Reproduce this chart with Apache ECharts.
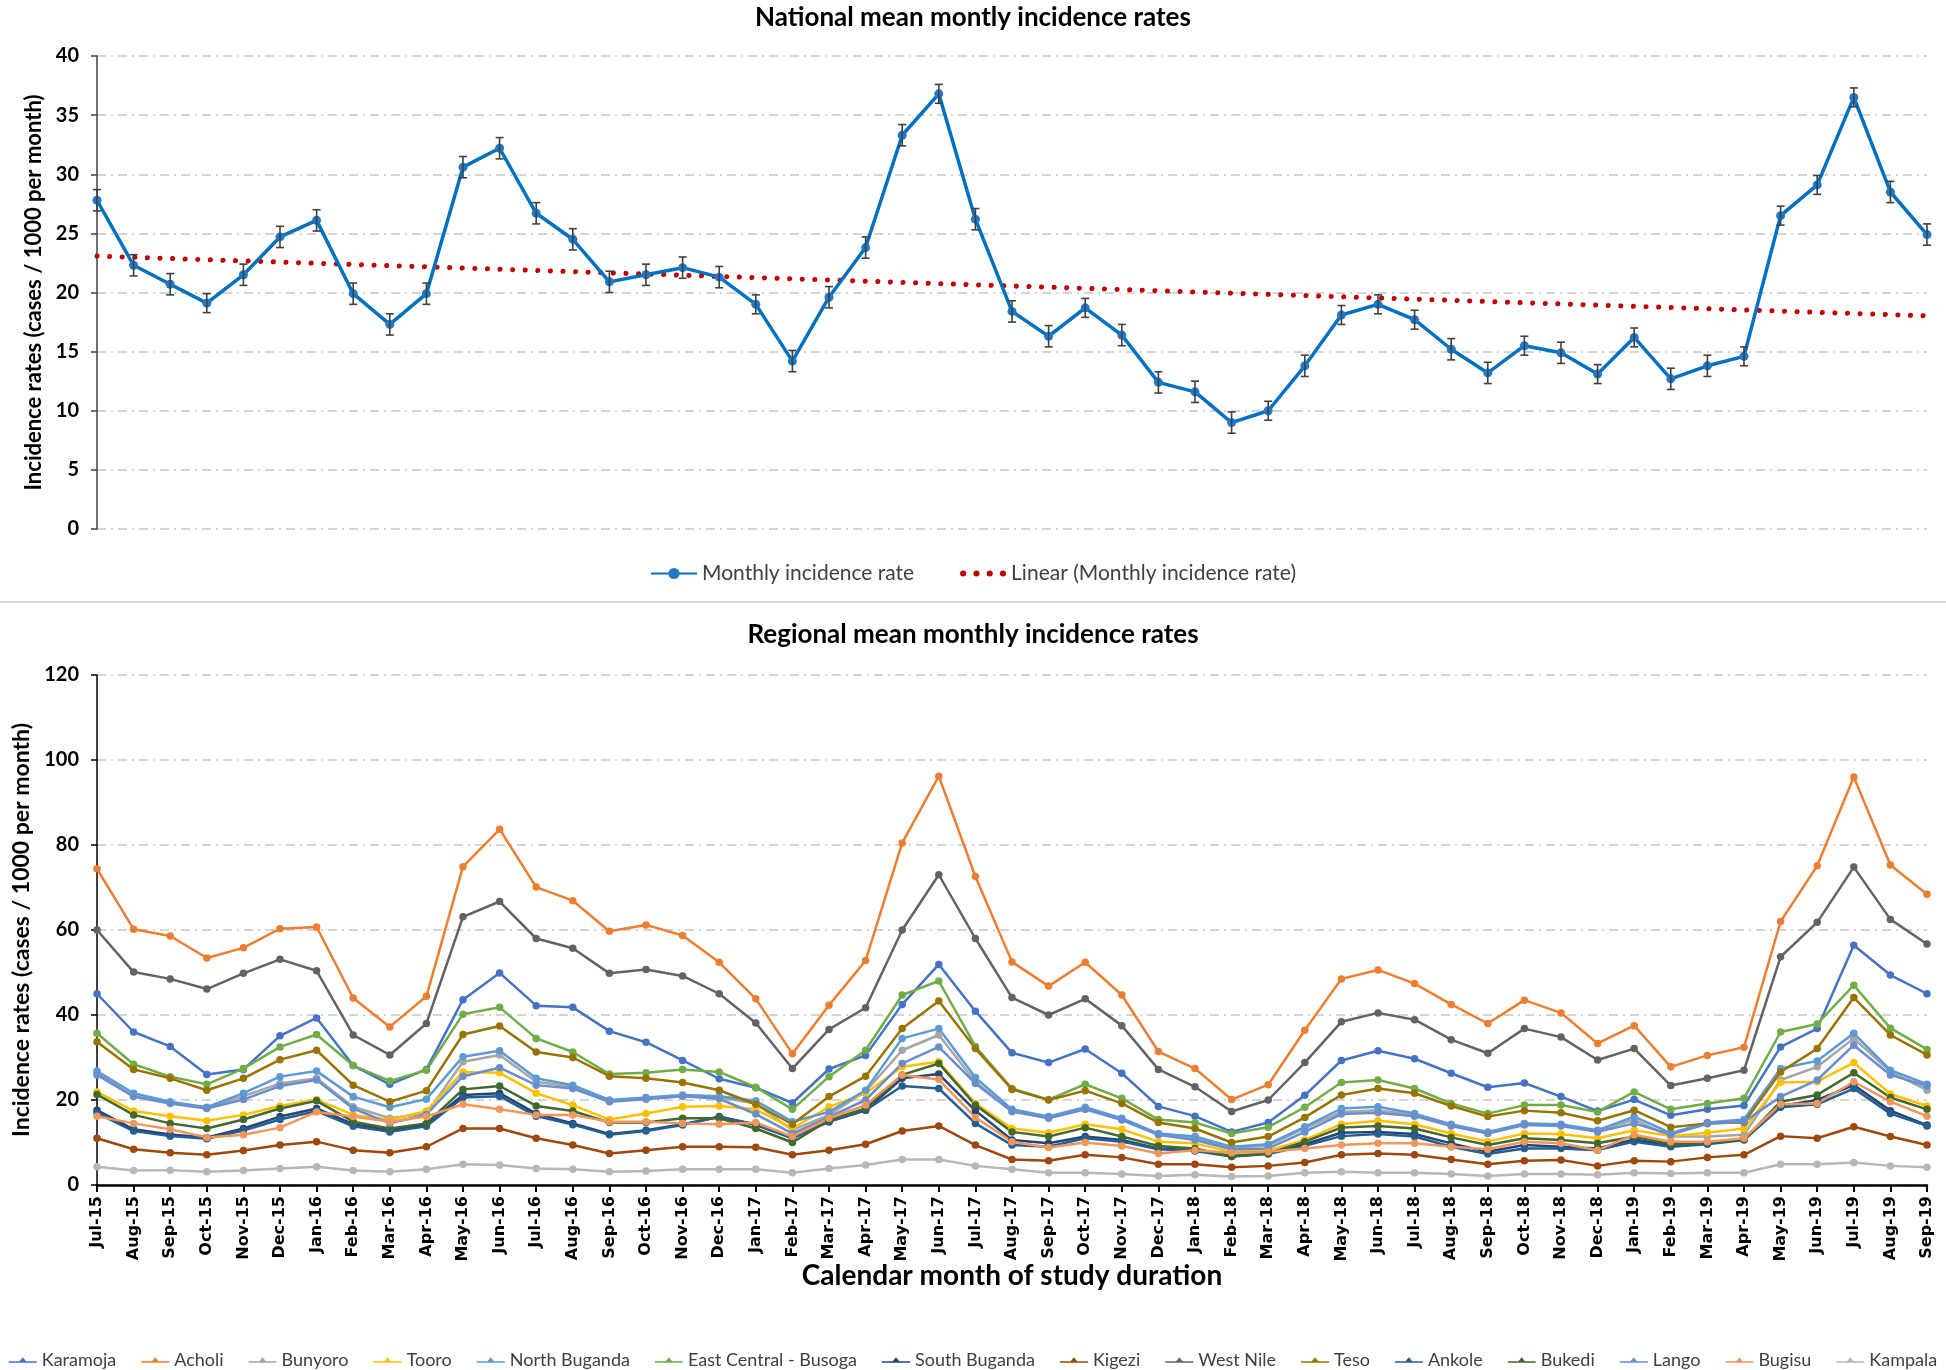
<!DOCTYPE html>
<html>
<head>
<meta charset="utf-8">
<script src="https://cdn.jsdelivr.net/npm/echarts@6/dist/echarts.min.js"></script>
<style>
    html, body { margin: 0; padding: 0; background: #fff; }
    #chart { width: 1946px; height: 1370px; }
</style>
</head>
<body>
<div id="chart"></div>
<script>
// 月份
var months = ['Jul-15','Aug-15','Sep-15','Oct-15','Nov-15','Dec-15','Jan-16','Feb-16','Mar-16','Apr-16',
    'May-16','Jun-16','Jul-16','Aug-16','Sep-16','Oct-16','Nov-16','Dec-16','Jan-17','Feb-17',
    'Mar-17','Apr-17','May-17','Jun-17','Jul-17','Aug-17','Sep-17','Oct-17','Nov-17','Dec-17',
    'Jan-18','Feb-18','Mar-18','Apr-18','May-18','Jun-18','Jul-18','Aug-18','Sep-18','Oct-18',
    'Nov-18','Dec-18','Jan-19','Feb-19','Mar-19','Apr-19','May-19','Jun-19','Jul-19','Aug-19','Sep-19'];

// 全国月均发病率
var nationalRate = [27.8, 22.3, 20.7, 19.1, 21.5, 24.7, 26.1, 19.9, 17.3, 19.9,
    30.6, 32.2, 26.7, 24.5, 20.9, 21.5, 22.1, 21.3, 19.0, 14.2,
    19.6, 23.8, 33.3, 36.8, 26.2, 18.4, 16.3, 18.7, 16.4, 12.4,
    11.6, 9.0, 10.0, 13.8, 18.1, 19.0, 17.7, 15.2, 13.2, 15.5,
    14.9, 13.1, 16.2, 12.7, 13.8, 14.6, 26.5, 29.1, 36.5, 28.5, 24.9];
// 误差 (±)
var nationalErr = [0.9, 0.9, 0.9, 0.8, 0.9, 0.9, 0.9, 0.9, 0.9, 0.9,
    0.9, 0.9, 0.9, 0.9, 0.9, 0.9, 0.9, 0.9, 0.8, 0.9,
    0.9, 0.9, 0.9, 0.8, 0.9, 0.9, 0.9, 0.8, 0.9, 0.9,
    0.9, 0.9, 0.8, 0.9, 0.8, 0.8, 0.8, 0.9, 0.9, 0.8,
    0.9, 0.8, 0.8, 0.9, 0.9, 0.8, 0.8, 0.8, 0.8, 0.9, 0.9];

// 各地区
var karamoja = [45.0, 36.0, 32.6, 26.0, 27.2, 35.1, 39.3, 28.1, 23.7, 27.2,
    43.6, 49.9, 42.2, 41.8, 36.2, 33.6, 29.3, 25.0, 22.9, 19.3,
    27.3, 30.5, 42.5, 51.9, 40.9, 31.1, 28.8, 32.0, 26.3, 18.5,
    16.2, 12.5, 14.7, 21.1, 29.3, 31.6, 29.7, 26.3, 23.0, 24.0,
    20.8, 17.4, 20.1, 16.4, 17.8, 18.7, 32.5, 36.8, 56.4, 49.4, 45.0];
var acholi = [74.4, 60.2, 58.6, 53.4, 55.8, 60.3, 60.7, 44.0, 37.2, 44.4,
    74.9, 83.7, 70.1, 66.9, 59.7, 61.2, 58.7, 52.4, 43.8, 30.9,
    42.3, 52.8, 80.5, 96.2, 72.6, 52.5, 46.8, 52.4, 44.7, 31.4,
    27.4, 20.1, 23.6, 36.4, 48.5, 50.6, 47.4, 42.5, 38.0, 43.5,
    40.5, 33.3, 37.5, 27.8, 30.5, 32.4, 62.0, 75.1, 96.0, 75.3, 68.4];
var bunyoro = [26.3, 20.9, 19.3, 18.1, 20.9, 23.9, 25.1, 18.4, 15.7, 16.8,
    29.0, 30.6, 24.3, 23.1, 19.8, 20.4, 21.0, 20.6, 19.2, 12.9,
    16.5, 22.0, 31.7, 35.3, 24.3, 17.3, 15.9, 17.9, 15.5, 12.0,
    11.0, 8.8, 9.3, 13.3, 17.2, 17.6, 16.5, 14.1, 12.3, 14.4,
    14.1, 12.7, 15.4, 11.4, 11.4, 11.8, 24.7, 27.8, 34.5, 26.6, 22.3];
var tooro = [21.9, 17.4, 16.2, 15.1, 16.5, 18.6, 20.1, 16.5, 15.3, 17.4,
    26.6, 26.4, 21.6, 18.8, 15.4, 16.8, 18.4, 18.6, 17.8, 13.3,
    18.4, 21.6, 27.8, 29.0, 19.2, 13.3, 12.3, 14.3, 13.1, 10.2,
    9.8, 7.8, 8.1, 10.6, 14.3, 15.1, 14.3, 12.1, 10.2, 12.1,
    12.0, 11.0, 12.9, 11.5, 12.3, 13.3, 24.1, 24.3, 28.8, 21.4, 18.6];
var northBuganda = [26.8, 21.6, 19.6, 18.3, 21.6, 25.5, 26.8, 20.8, 18.3, 20.2,
    30.2, 31.6, 25.1, 23.5, 20.0, 20.6, 21.2, 20.9, 19.8, 14.9,
    17.2, 22.3, 34.5, 36.8, 25.3, 17.8, 16.1, 18.3, 15.7, 12.1,
    11.4, 9.0, 9.6, 13.7, 18.0, 18.4, 16.8, 14.3, 12.5, 14.5,
    14.3, 12.9, 16.1, 12.2, 14.7, 15.4, 27.4, 29.2, 35.7, 27.0, 23.7];
var eastCentralBusoga = [35.7, 28.4, 25.5, 23.7, 27.4, 32.5, 35.4, 28.1, 24.5, 27.0,
    40.2, 41.8, 34.5, 31.3, 26.1, 26.4, 27.2, 26.6, 23.0, 17.8,
    25.5, 31.7, 44.7, 48.0, 32.6, 22.7, 20.1, 23.7, 20.4, 15.4,
    14.7, 12.1, 13.6, 18.3, 24.1, 24.7, 22.7, 19.2, 16.8, 18.8,
    18.8, 17.2, 21.9, 17.8, 19.2, 20.4, 36.0, 37.9, 47.0, 36.9, 31.9];
var southBuganda = [17.6, 13.1, 11.9, 11.2, 13.3, 16.1, 18.0, 14.3, 12.9, 14.3,
    21.2, 21.6, 16.8, 14.5, 12.0, 12.9, 14.3, 16.0, 14.3, 11.2,
    14.9, 17.6, 25.1, 26.1, 17.5, 10.6, 9.8, 11.4, 10.6, 8.6,
    8.2, 6.8, 7.4, 9.6, 12.3, 12.5, 12.0, 9.8, 7.8, 9.4,
    9.0, 8.6, 10.7, 9.3, 9.8, 10.9, 18.6, 20.0, 23.5, 17.5, 14.1];
var kigezi = [11.0, 8.4, 7.6, 7.1, 8.1, 9.4, 10.2, 8.2, 7.6, 9.0,
    13.3, 13.3, 11.0, 9.4, 7.4, 8.2, 9.0, 9.0, 8.9, 7.1,
    8.2, 9.6, 12.7, 13.9, 9.4, 6.0, 5.7, 7.1, 6.5, 4.9,
    4.9, 4.2, 4.5, 5.3, 7.1, 7.4, 7.1, 6.0, 4.9, 5.7,
    5.9, 4.5, 5.7, 5.5, 6.5, 7.1, 11.5, 11.0, 13.7, 11.4, 9.4];
var westNile = [60.0, 50.1, 48.5, 46.1, 49.8, 53.1, 50.4, 35.3, 30.6, 38.0,
    63.1, 66.7, 58.0, 55.7, 49.8, 50.7, 49.2, 45.0, 38.1, 27.4,
    36.6, 41.7, 60.0, 73.0, 58.0, 44.1, 40.0, 43.8, 37.5, 27.2,
    23.1, 17.3, 20.0, 28.8, 38.4, 40.5, 38.9, 34.2, 31.0, 36.8,
    34.8, 29.4, 32.1, 23.4, 25.1, 27.0, 53.7, 61.8, 74.8, 62.5, 56.7];
var teso = [33.7, 27.2, 25.1, 22.3, 25.1, 29.5, 31.7, 23.5, 19.6, 22.2,
    35.4, 37.4, 31.3, 30.0, 25.6, 25.1, 24.1, 22.3, 19.0, 14.3,
    20.8, 25.6, 36.8, 43.3, 32.1, 22.5, 20.0, 22.2, 19.2, 14.7,
    13.3, 10.0, 11.4, 15.9, 21.2, 22.7, 21.6, 18.6, 16.1, 17.5,
    17.0, 15.1, 17.6, 13.6, 14.5, 14.7, 26.6, 32.1, 44.1, 35.3, 30.6];
var ankole = [16.9, 12.7, 11.5, 10.9, 12.8, 15.4, 17.4, 13.8, 12.5, 13.8,
    20.6, 20.9, 16.2, 14.2, 11.8, 12.7, 14.1, 16.1, 14.1, 11.0,
    14.9, 17.6, 23.3, 22.7, 14.5, 9.4, 9.0, 11.0, 10.2, 8.4,
    8.0, 6.7, 7.3, 9.2, 11.5, 12.0, 11.4, 9.0, 7.3, 8.6,
    8.6, 8.2, 10.2, 9.0, 9.6, 10.6, 18.3, 19.0, 22.7, 16.8, 13.9];
var bukedi = [21.3, 16.5, 14.5, 13.3, 15.4, 18.0, 19.8, 14.9, 13.3, 14.5,
    22.5, 23.3, 18.6, 17.4, 14.7, 14.7, 15.7, 15.7, 13.3, 10.0,
    15.3, 18.0, 25.9, 28.6, 18.8, 12.5, 11.4, 13.5, 11.4, 9.2,
    8.6, 6.7, 7.4, 10.2, 13.5, 13.9, 13.3, 11.2, 9.4, 11.0,
    10.6, 9.8, 11.4, 9.6, 10.0, 10.7, 19.6, 21.2, 26.4, 20.6, 17.8];
var lango = [25.9, 20.8, 19.2, 18.0, 20.1, 23.3, 24.7, 18.0, 14.5, 16.6,
    25.6, 27.6, 23.5, 22.7, 19.6, 20.2, 20.9, 20.3, 16.7, 12.1,
    16.0, 20.0, 28.6, 32.5, 23.9, 17.3, 15.7, 17.8, 15.3, 11.8,
    10.6, 8.4, 8.6, 12.5, 16.7, 17.0, 16.2, 13.9, 12.1, 14.1,
    13.9, 12.5, 14.5, 11.9, 14.4, 14.9, 20.8, 24.7, 32.9, 25.9, 23.3];
var bugisu = [16.2, 14.5, 13.1, 11.2, 11.8, 13.5, 17.2, 16.1, 14.9, 16.1,
    19.0, 17.8, 16.5, 16.5, 14.9, 14.9, 14.5, 14.3, 14.7, 11.4,
    15.7, 18.8, 25.9, 24.8, 15.9, 10.2, 8.8, 10.0, 9.2, 7.4,
    8.2, 7.6, 7.8, 8.6, 9.4, 9.8, 9.8, 9.0, 8.4, 10.2,
    9.8, 8.2, 11.8, 10.2, 10.2, 11.0, 19.0, 19.2, 24.3, 19.6, 16.2];
var kampala = [4.3, 3.4, 3.5, 3.1, 3.4, 3.9, 4.3, 3.4, 3.1, 3.7,
    4.9, 4.7, 3.9, 3.7, 3.1, 3.3, 3.7, 3.7, 3.7, 2.9,
    3.9, 4.7, 6.0, 6.0, 4.5, 3.7, 2.9, 2.9, 2.6, 2.1,
    2.4, 2.0, 2.1, 2.9, 3.1, 2.9, 2.9, 2.6, 2.1, 2.6,
    2.6, 2.4, 2.9, 2.7, 2.9, 2.9, 4.9, 4.9, 5.3, 4.5, 4.2];

var regionNames = ['Karamoja', 'Acholi', 'Bunyoro', 'Tooro', 'North Buganda', 'East Central - Busoga',
    'South Buganda', 'Kigezi', 'West Nile', 'Teso', 'Ankole', 'Bukedi', 'Lango', 'Bugisu', 'Kampala'];
var regionData = [karamoja, acholi, bunyoro, tooro, northBuganda, eastCentralBusoga,
    southBuganda, kigezi, westNile, teso, ankole, bukedi, lango, bugisu, kampala];
var regionColors = ['#4472C4', '#ED7D31', '#A5A5A5', '#FFC000', '#5B9BD5', '#70AD47',
    '#264478', '#9E480E', '#636363', '#997300', '#255E91', '#43682B', '#698ED0', '#F1975A', '#B7B7B7'];

var FONT = 'Lato, "Noto Sans", sans-serif';

// 线性趋势 (最小二乘)
function linearTrend(vals) {
    var n = vals.length, sx = 0, sy = 0, sxy = 0, sxx = 0;
    for (var i = 0; i < n; i++) {
        sx += i; sy += vals[i]; sxy += i * vals[i]; sxx += i * i;
    }
    var b = (n * sxy - sx * sy) / (n * sxx - sx * sx);
    var a = (sy - b * sx) / n;
    return vals.map(function (v, i) { return +(a + b * i).toFixed(3); });
}

var gridLine = { show: true, lineStyle: { color: '#c6c6c6', width: 1.5, type: [9, 5, 2, 5] } };

// 图例小图标: 点线 / 线加三角
var dotsIcon = 'path://M0,3a3,3 0 1,0 6,0a3,3 0 1,0 -6,0z M13,3a3,3 0 1,0 6,0a3,3 0 1,0 -6,0z ' +
    'M26,3a3,3 0 1,0 6,0a3,3 0 1,0 -6,0z M39,3a3,3 0 1,0 6,0a3,3 0 1,0 -6,0z';
var triLineIcon = 'path://M0,5.2 L11.5,5.2 L15,1 L18.5,5.2 L30,5.2 L30,6.8 L0,6.8 Z';

var chart = echarts.init(document.getElementById('chart'));

var series = [
    {
        name: 'Monthly incidence rate',
        type: 'line',
        xAxisIndex: 0, yAxisIndex: 0,
        data: nationalRate,
        symbol: 'circle',
        symbolSize: 9,
        lineStyle: { color: '#0070C0', width: 3.5 },
        itemStyle: { color: '#1F78C8' },
        z: 3
    },
    {
        name: 'Linear (Monthly incidence rate)',
        type: 'line',
        xAxisIndex: 0, yAxisIndex: 0,
        data: linearTrend(nationalRate),
        symbol: 'none',
        itemStyle: { color: '#C00000' },
        lineStyle: { color: '#C00000', width: 5, type: [0.1, 12.5], cap: 'round' },
        z: 2
    },
    {
        type: 'custom',
        xAxisIndex: 0, yAxisIndex: 0,
        data: nationalRate.map(function (v, i) { return [i, v - nationalErr[i], v + nationalErr[i]]; }),
        renderItem: function (params, api) {
            var lo = api.coord([api.value(0), api.value(1)]);
            var hi = api.coord([api.value(0), api.value(2)]);
            var st = { stroke: '#404040', lineWidth: 1.6 };
            var w = 4;
            return {
                type: 'group',
                children: [
                    { type: 'line', shape: { x1: lo[0], y1: lo[1], x2: hi[0], y2: hi[1] }, style: st },
                    { type: 'line', shape: { x1: lo[0] - w, y1: lo[1], x2: lo[0] + w, y2: lo[1] }, style: st },
                    { type: 'line', shape: { x1: hi[0] - w, y1: hi[1], x2: hi[0] + w, y2: hi[1] }, style: st }
                ]
            };
        },
        z: 4
    }
];

regionNames.forEach(function (name, k) {
    series.push({
        name: name,
        type: 'line',
        xAxisIndex: 1, yAxisIndex: 1,
        data: regionData[k],
        symbol: 'circle',
        symbolSize: 7.5,
        color: regionColors[k],
        lineStyle: { width: 2.5 },
        emphasis: { disabled: true }
    });
});

var option = {
    animation: false,
    backgroundColor: '#fff',
    textStyle: { fontFamily: FONT },
    title: [
        { text: 'National mean montly incidence rates', left: 'center', top: 0,
          textStyle: { fontFamily: FONT, fontWeight: 'bold', fontSize: 26, color: '#000' } },
        { text: 'Regional mean monthly incidence rates', left: 'center', top: 617,
          textStyle: { fontFamily: FONT, fontWeight: 'bold', fontSize: 26, color: '#000' } }
    ],
    legend: [
        {
            data: ['Monthly incidence rate', { name: 'Linear (Monthly incidence rate)', icon: dotsIcon }],
            left: 'center', top: 558,
            itemWidth: 46, itemHeight: 14, itemGap: 46,
            textStyle: { fontFamily: FONT, fontSize: 21, color: '#404040' }
        },
        {
            data: regionNames,
            left: 'center', top: 1346,
            icon: triLineIcon,
            itemWidth: 28, itemHeight: 10, itemGap: 25,
            textStyle: { fontFamily: FONT, fontSize: 18, color: '#404040' }
        }
    ],
    graphic: [
        { type: 'line', shape: { x1: 0, y1: 602, x2: 1946, y2: 602 },
          style: { stroke: '#d9d9d9', lineWidth: 2 } }
    ],
    grid: [
        { left: 97, right: 19, top: 56, height: 473 },
        { left: 97, right: 19, top: 675, height: 510 }
    ],
    xAxis: [
        {
            gridIndex: 0, type: 'category', data: months, boundaryGap: false,
            axisLine: { show: false }, axisTick: { show: false }, axisLabel: { show: false },
            splitLine: { show: false }
        },
        {
            gridIndex: 1, type: 'category', data: months, boundaryGap: false,
            axisLine: { lineStyle: { color: '#000', width: 2.5 } },
            axisTick: { show: true, length: 7, lineStyle: { color: '#000', width: 2 } },
            axisLabel: { interval: 0, rotate: 90, margin: 11, color: '#000',
                         fontFamily: 'DejaVu Sans', fontWeight: 'bold', fontSize: 16 },
            name: 'Calendar month of study duration',
            nameLocation: 'middle', nameGap: 77, nameMoveOverlap: false,
            nameTextStyle: { fontFamily: FONT, fontWeight: 'bold', fontSize: 28, color: '#000' },
            splitLine: { show: false }
        }
    ],
    yAxis: [
        {
            gridIndex: 0, type: 'value', min: 0, max: 40, interval: 5,
            axisLine: { show: true, lineStyle: { color: '#404040', width: 1.5 } },
            axisTick: { show: true, length: 6, lineStyle: { color: '#404040', width: 1.5 } },
            axisLabel: { color: '#000', fontFamily: FONT, fontWeight: 'bold', fontSize: 20, margin: 18 },
            splitLine: gridLine,
            name: 'Incidence rates (cases / 1000 per month)',
            nameLocation: 'middle', nameGap: 49,
            nameTextStyle: { fontFamily: FONT, fontWeight: 'bold', fontSize: 22, color: '#000' }
        },
        {
            gridIndex: 1, type: 'value', min: 0, max: 120, interval: 20,
            axisLine: { show: true, lineStyle: { color: '#000', width: 1.5 } },
            axisTick: { show: true, length: 6, lineStyle: { color: '#000', width: 1.5 } },
            axisLabel: { color: '#000', fontFamily: FONT, fontWeight: 'bold', fontSize: 20, margin: 18 },
            splitLine: gridLine,
            name: 'Incidence rates (cases / 1000 per month)',
            nameLocation: 'middle', nameGap: 57,
            nameTextStyle: { fontFamily: FONT, fontWeight: 'bold', fontSize: 23, color: '#000' }
        }
    ],
    series: series
};

chart.setOption(option);
</script>
</body>
</html>
